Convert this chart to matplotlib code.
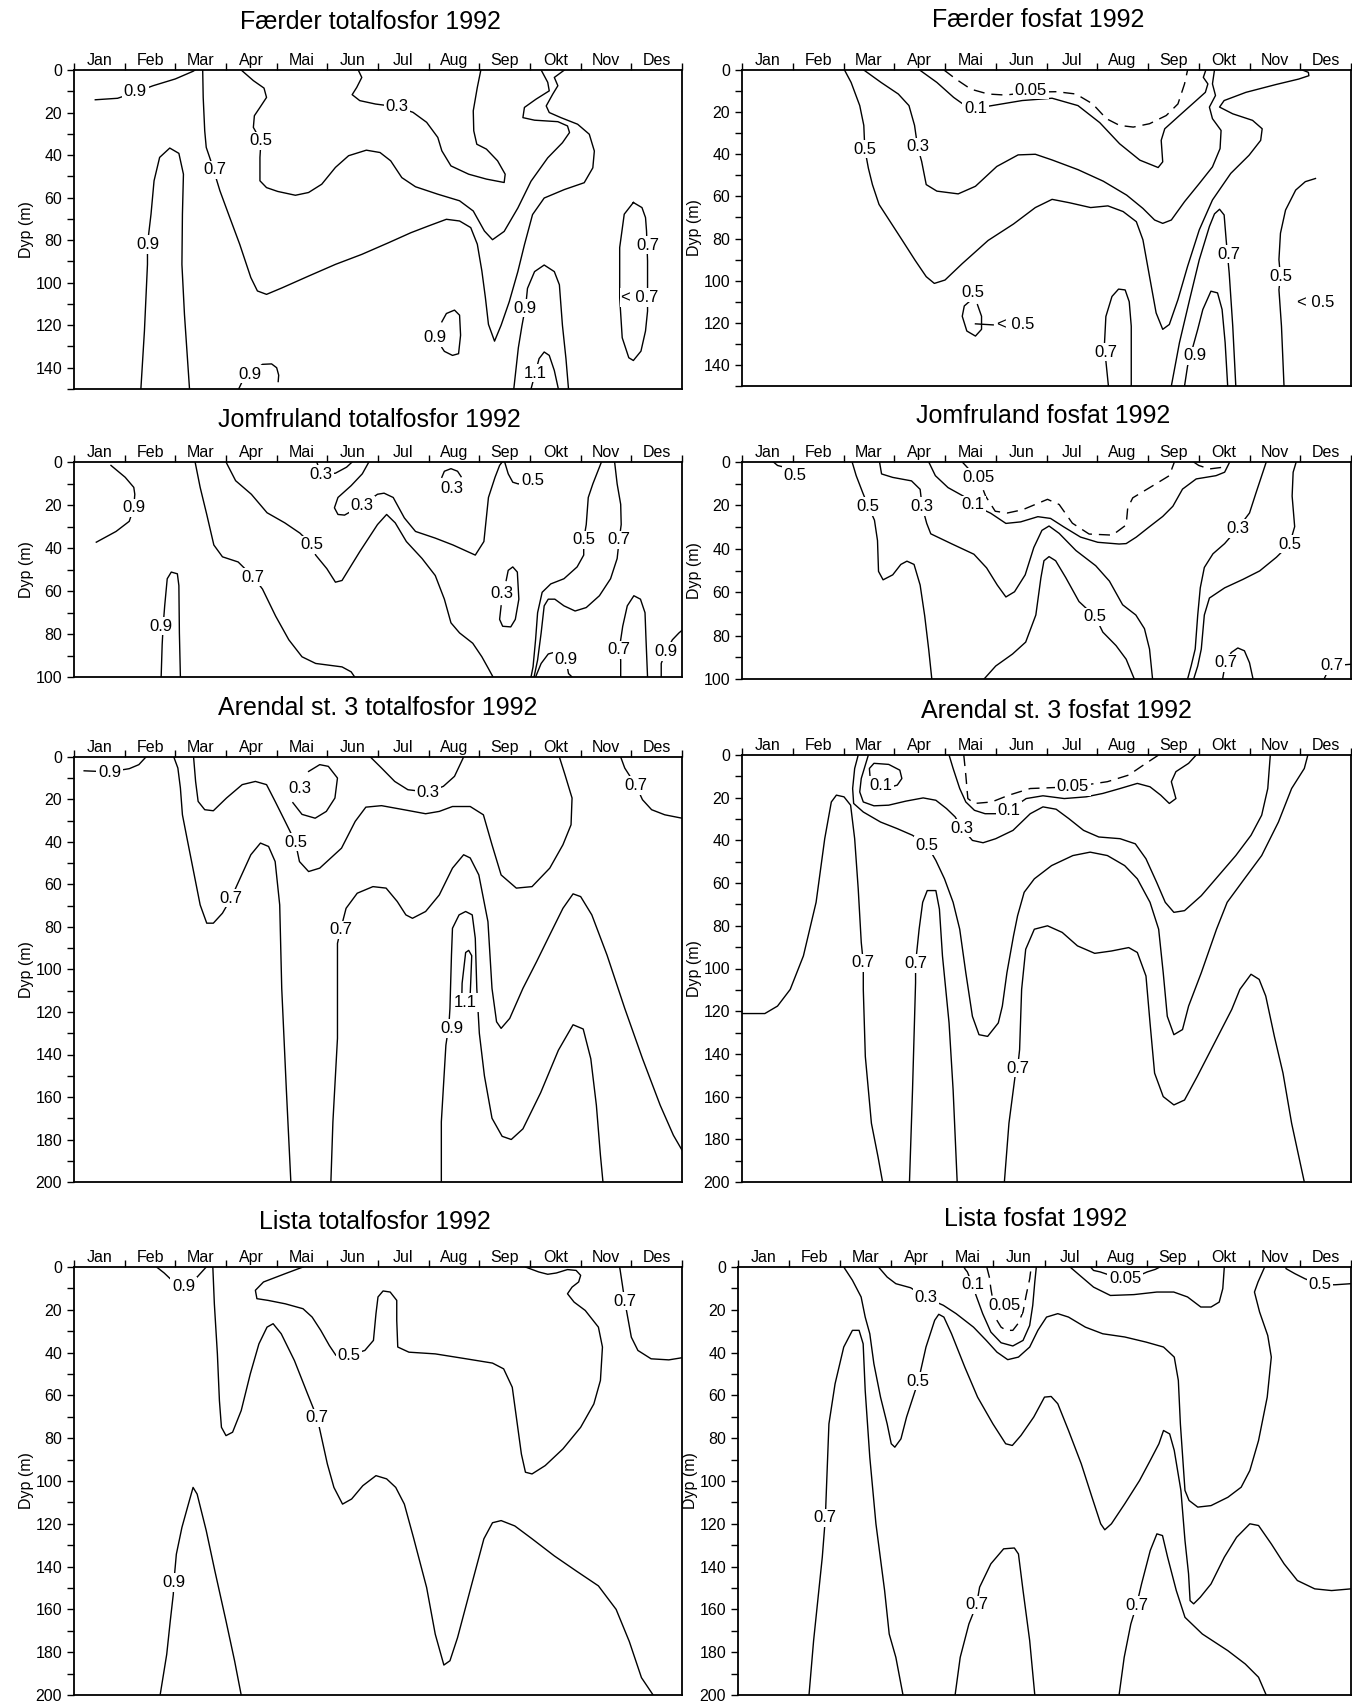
import matplotlib.pyplot as plt

plt.rcParams['font.family'] = ['Liberation Sans', 'DejaVu Sans']

months = ['Jan', 'Feb', 'Mar', 'Apr', 'Mai', 'Jun', 'Jul', 'Aug', 'Sep', 'Okt', 'Nov', 'Des']

# isolines as (month, depth m); month 0 = 1 Jan, 12 = 31 Des
# ---- Færder totalfosfor (0-150 m)
faerder_tp_lines = [
    [(0.42, 14), (0.86, 13.3), (1.21, 10.5), (1.56, 7.4), (2.0, 4.2), (2.35, 0.6), (2.39, 0)],
    [(2.54, 0), (2.55, 12.9), (2.58, 28.6), (2.61, 36.4), (2.7, 42.7), (2.88, 56.8), (3.05, 67.8), (3.27, 81.9),
     (3.49, 97.6), (3.62, 103.9), (3.8, 105.5), (4.11, 102.4), (4.63, 96.9), (5.16, 91.4), (5.68, 86.7),
     (6.21, 81.2), (6.65, 76.5), (7.0, 73.3), (7.35, 70.2), (7.61, 71.0), (7.83, 74.1), (7.96, 81.9),
     (8.05, 94.5), (8.12, 107.1), (8.18, 119.6), (8.3, 127.5), (8.43, 120), (8.59, 109), (8.76, 94.8),
     (8.89, 82.2), (9.05, 68), (9.28, 60.2), (9.68, 56.2), (10.07, 53), (10.24, 46), (10.27, 38.1),
     (10.17, 30.2), (9.94, 25.5), (9.61, 22.4), (9.38, 20), (9.32, 16.9), (9.45, 11.3), (9.55, 7.4),
     (9.48, 3.5), (9.68, 0)],
    [(3.3, 0), (3.54, 5.0), (3.75, 8.5), (3.8, 12.9), (3.67, 17.6), (3.56, 21.5), (3.54, 27.0), (3.69, 33.3),
     (3.67, 41.1), (3.67, 52.1), (3.8, 55.3), (4.02, 57.1), (4.37, 58.9), (4.63, 57.6), (4.89, 53.7),
     (5.16, 45.8), (5.42, 40.3), (5.77, 37.7), (6.04, 38.8), (6.25, 42.7), (6.47, 50.6), (6.74, 54.9),
     (7.18, 58.4), (7.61, 61.5), (7.88, 66.3), (8.1, 75.7), (8.26, 79.8), (8.49, 75.9), (8.76, 64.9),
     (9.02, 52.3), (9.35, 41.3), (9.64, 34.2), (9.78, 29.4), (9.74, 26.3), (9.55, 24.3), (9.09, 23.6),
     (8.86, 22.4), (8.89, 17.6), (9.12, 13.7), (9.38, 9.8), (9.35, 5.8), (9.22, 0)],
    [(5.61, 0), (5.68, 3.5), (5.58, 8.2), (5.49, 11.6), (5.64, 14.4), (5.95, 16.0), (6.37, 17.3), (6.69, 19.9),
     (6.96, 24.6), (7.18, 31.7), (7.26, 38.0), (7.44, 45.1), (7.79, 49.0), (8.14, 51.3), (8.49, 52.9),
     (8.51, 49.0), (8.36, 42.7), (8.14, 37.2), (7.95, 34.9), (7.89, 28.6), (7.88, 19.2), (7.96, 8.2), (8.03, 0)],
    [(1.32, 150), (1.39, 122.7), (1.45, 91.4), (1.45, 81.9), (1.52, 67.8), (1.58, 52.1), (1.69, 41.1),
     (1.89, 36.7), (2.07, 39.2), (2.16, 49.0), (2.14, 67.8), (2.13, 91.4), (2.18, 114.9), (2.28, 150)],
    [(8.68, 150), (8.77, 130.6), (8.84, 120.4), (8.92, 110), (8.95, 102.7), (9.09, 94.8), (9.28, 91.7),
     (9.48, 94.8), (9.58, 101), (9.64, 120), (9.71, 135.8), (9.76, 150)],
    [(9.02, 150), (9.1, 142.8), (9.18, 135.7), (9.28, 132.6), (9.38, 134.2), (9.48, 141.3), (9.56, 150)],
    [(7.26, 118.4), (7.35, 114.5), (7.51, 112.9), (7.61, 115.3), (7.63, 124.7), (7.59, 133.4), (7.47, 134.2),
     (7.31, 132.3), (7.26, 130.5)],
    [(3.25, 150), (3.32, 146.5), (3.47, 143), (3.72, 138.4), (3.9, 138.2), (4.0, 140), (4.04, 143.5), (4.03, 146.5)],
    [(11.04, 62.3), (11.21, 64.7), (11.28, 69.4), (11.3, 75.7), (11.32, 89.8), (11.32, 97.6), (11.32, 113.4),
     (11.28, 122.7), (11.19, 132.2), (11.04, 136.6), (10.95, 135.3), (10.82, 125.9), (10.77, 107.1),
     (10.77, 83.5), (10.86, 67.8), (11.04, 62.3)],
]
faerder_tp_dashed = []
faerder_tp_labels = [
    (1.21, 10, '0.9'), (2.79, 47, '0.7'), (3.69, 33.3, '0.5'), (6.37, 17.3, '0.3'), (1.45, 82, '0.9'),
    (8.9, 112, '0.9'), (9.1, 142.5, '1.1'), (7.13, 126, '0.9'), (3.47, 143, '0.9'), (11.32, 82.3, '0.7'),
    (11.17, 107, '< 0.7'),
]

# ---- Færder fosfat (0-150 m)
faerder_po4_lines = [
    [(2.02, 0), (2.15, 5.9), (2.32, 16.9), (2.4, 26.3), (2.42, 37.5), (2.49, 46.6), (2.57, 54.4), (2.7, 63.8),
     (2.91, 71.6), (3.16, 80.9), (3.41, 90.3), (3.63, 98.1), (3.79, 101.3), (4.0, 99.7), (4.34, 91.9),
     (4.85, 80.9), (5.35, 73.1), (5.78, 65.3), (6.11, 61.4), (6.45, 63), (6.87, 65.3), (7.21, 64.5),
     (7.51, 67.2), (7.77, 72), (7.9, 80.6), (8.03, 98), (8.16, 115.3), (8.29, 123.1), (8.42, 120.8),
     (8.59, 109), (8.78, 93.2), (9.01, 75.9), (9.27, 61.7), (9.63, 49.1), (9.99, 40.5), (10.22, 33.4),
     (10.25, 27.9), (10.06, 23.9), (9.67, 20.8), (9.41, 17.6), (9.5, 14.5), (9.93, 10.6), (10.52, 6.9),
     (10.97, 4.3), (11.17, 2.7), (11.16, 1.1), (11.04, 0)],
    [(2.4, 0), (2.74, 5.9), (3.08, 11.4), (3.29, 16.9), (3.4, 26.3), (3.46, 36.4), (3.54, 43.4), (3.63, 54.4),
     (3.84, 57.5), (4.26, 58.8), (4.6, 55.2), (5.02, 45.8), (5.44, 40.3), (5.78, 40), (6.11, 42.7),
     (6.62, 47.3), (7.12, 52.8), (7.58, 59.4), (7.9, 65.7), (8.13, 71.2), (8.29, 72.8), (8.46, 71.2),
     (8.72, 62.5), (9.01, 53.9), (9.27, 46), (9.42, 37.3), (9.44, 28.7), (9.27, 23.1), (9.21, 17.6),
     (9.33, 12.1), (9.27, 6.6), (9.31, 0)],
    [(3.5, 0), (3.84, 5.9), (4.17, 13), (4.38, 16.6), (4.6, 18.1), (4.85, 17.2), (5.52, 14.5), (6.11, 13.4),
     (6.62, 16.9), (7.05, 25), (7.44, 35), (7.84, 42.8), (8.2, 46.3), (8.29, 43.6), (8.26, 33.4), (8.33, 27.9),
     (8.62, 21.6), (8.95, 14.5), (9.13, 10.6), (9.18, 6.6), (9.09, 3.5), (9.14, 0)],
    [(7.22, 150), (7.18, 140.5), (7.14, 131), (7.17, 117), (7.29, 107.5), (7.42, 104), (7.55, 104.4),
     (7.63, 110), (7.67, 121.6), (7.67, 150)],
    [(8.46, 150), (8.62, 129.4), (8.82, 109), (9.01, 90.1), (9.21, 74.3), (9.31, 68.3), (9.41, 66.1),
     (9.5, 68.8), (9.54, 80.6), (9.6, 96.4), (9.67, 121.6), (9.73, 150)],
    [(8.72, 150), (8.78, 140.5), (8.98, 123.1), (9.08, 113.7), (9.24, 105), (9.37, 105.8), (9.46, 113.7),
     (9.52, 129.4), (9.57, 150)],
    [(10.68, 150), (10.63, 121.6), (10.58, 104.3), (10.61, 98), (10.58, 90), (10.61, 77.5), (10.71, 66.5),
     (10.91, 57), (11.1, 53), (11.3, 51.5)],
    [(4.5, 109.5), (4.38, 112), (4.34, 116.9), (4.43, 123.9), (4.6, 126.3), (4.72, 123.1), (4.72, 116.9),
     (4.64, 111.4)],
    [(4.6, 120.5), (4.95, 121)],
]
faerder_po4_dashed = [
    [(3.98, 0), (4.22, 4.4), (4.51, 9.1), (4.85, 11.4), (5.19, 11.9), (5.69, 10.5), (6.2, 10.3), (6.58, 11.4),
     (6.91, 16.1), (7.18, 23.1), (7.44, 26.3), (7.71, 27.1), (8.03, 25.5), (8.36, 21.6), (8.59, 16.1),
     (8.72, 6.6), (8.78, 0)],
]
faerder_po4_labels = [
    (2.42, 37.5, '0.5'), (3.46, 36.4, '0.3'), (4.6, 18.1, '0.1'), (5.69, 9.6, '0.05'), (4.54, 105.6, '0.5'),
    (5.4, 120.8, '< 0.5'), (7.17, 134, '0.7'), (9.6, 87.5, '0.7'), (8.92, 135.7, '0.9'), (10.61, 98, '0.5'),
    (11.3, 110.5, '< 0.5'),
]

# ---- Jomfruland totalfosfor (0-100 m)
jomfru_tp_lines = [
    [(0.73, 1.6), (1.01, 7.1), (1.18, 11.8), (1.2, 15), (1.18, 21.3), (1.09, 27.6), (0.83, 32.3), (0.44, 37.3)],
    [(2.39, 0), (2.49, 11.8), (2.62, 24.4), (2.76, 38.6), (2.93, 44.1), (3.24, 46.5), (3.54, 53.5), (3.72, 59.1),
     (3.98, 71.7), (4.24, 82.7), (4.5, 90.6), (4.77, 93.7), (5.29, 95.3), (5.47, 97.6), (5.54, 100)],
    [(3.0, 0), (3.19, 8.7), (3.5, 15), (3.81, 23.6), (4.16, 28.3), (4.46, 33.1), (4.7, 38.6), (4.77, 43.3),
     (4.99, 49.6), (5.16, 55.9), (5.29, 55.1), (5.64, 41.7), (5.99, 29.1), (6.17, 24.4), (6.34, 28.3),
     (6.56, 37), (6.87, 44.9), (7.13, 52.8), (7.31, 63.8), (7.44, 74.8), (7.61, 79.5), (7.87, 84.3),
     (8.05, 90.6), (8.18, 96.1), (8.27, 100)],
    [(5.82, 0), (5.69, 5.5), (5.47, 11), (5.21, 16.5), (5.14, 21.3), (5.21, 24.4), (5.34, 24.7), (5.69, 20),
     (5.99, 15), (6.12, 14.5), (6.3, 16.5), (6.52, 26), (6.74, 32.3), (7.13, 35.4), (7.48, 38.6), (7.92, 43.3),
     (8.09, 37), (8.18, 16.5), (8.31, 7.1), (8.4, 1.6), (8.45, 0)],
    [(8.5, 0), (8.57, 5.5), (8.66, 9.4), (8.77, 10.2), (9.0, 8.5)],
    [(4.79, 0), (4.84, 3.1), (4.87, 5.8), (5.16, 5.2), (5.38, 2.4), (5.49, 0)],
    [(7.26, 7.1), (7.31, 4.3), (7.44, 3.1), (7.57, 4.3), (7.64, 6.8)],
    [(8.53, 55.1), (8.57, 50.4), (8.66, 48.8), (8.75, 51.2), (8.78, 63.8), (8.71, 73.2), (8.62, 76.7),
     (8.46, 76.4), (8.4, 73.2), (8.43, 66.9)],
    [(10.41, 0), (10.24, 10.2), (10.15, 16.5), (10.11, 29.1), (10.06, 36.2), (10.06, 43.3), (9.93, 48.8),
     (9.67, 54.3), (9.41, 56.7), (9.24, 60.6), (9.15, 70.1), (9.11, 82.7), (9.06, 95.3), (9.02, 100)],
    [(10.67, 0), (10.72, 10.2), (10.79, 19.7), (10.8, 29.1), (10.76, 36.2), (10.72, 44.9), (10.59, 54.3),
     (10.37, 62.2), (10.11, 67.7), (9.89, 69.3), (9.67, 66.9), (9.49, 63.8), (9.36, 63.8), (9.28, 66.9),
     (9.22, 79.5), (9.15, 92.1), (9.08, 100)],
    [(9.11, 100), (9.22, 93.7), (9.36, 89.3), (9.48, 88.5), (9.71, 91.8), (9.76, 98.4), (9.83, 100)],
    [(10.79, 100), (10.79, 92.1), (10.76, 87.4), (10.83, 76.4), (10.92, 66.9), (11.05, 62.2), (11.18, 63.8),
     (11.27, 70.1), (11.29, 82.7), (11.32, 100)],
    [(11.59, 100), (11.59, 93.7), (11.68, 88.2), (11.81, 82.7), (11.94, 79.5), (12.0, 78.3)],
    [(1.72, 100), (1.74, 85), (1.76, 76), (1.79, 66.9), (1.84, 54.3), (1.92, 51.2), (2.04, 52), (2.07, 57.5),
     (2.08, 79.5), (2.1, 100)],
]
jomfru_tp_dashed = []
jomfru_tp_labels = [
    (1.18, 21.3, '0.9'), (3.54, 53.5, '0.7'), (4.7, 38.6, '0.5'), (5.69, 20, '0.3'), (9.05, 8.5, '0.5'),
    (4.87, 5.8, '0.3'), (7.45, 12.1, '0.3'), (8.44, 61, '0.3'), (10.06, 36.2, '0.5'), (10.76, 36.2, '0.7'),
    (9.71, 91.8, '0.9'), (10.76, 87.4, '0.7'), (11.68, 88.2, '0.9'), (1.72, 76.4, '0.9'),
]

# ---- Jomfruland fosfat (0-100 m)
jomfru_po4_lines = [
    [(0.62, 0), (0.7, 1.6), (0.85, 2.5), (1.05, 6)],
    [(2.17, 0), (2.25, 6.3), (2.38, 14.2), (2.49, 20.5), (2.61, 26.8), (2.67, 36.2), (2.69, 50.4), (2.78, 54.3),
     (2.97, 52), (3.13, 47.2), (3.25, 45.7), (3.39, 47.2), (3.51, 56.7), (3.6, 70.9), (3.68, 86.6), (3.74, 100)],
    [(2.71, 0), (2.75, 5.5), (2.97, 7.1), (3.34, 8.7), (3.51, 12.6), (3.55, 20.5), (3.64, 28.3), (3.72, 33.1),
     (4.14, 37.8), (4.57, 42.5), (4.82, 48.8), (5.03, 56.7), (5.2, 62.2), (5.37, 59.8), (5.58, 52),
     (5.75, 39.4), (5.91, 31.5), (6.05, 29.5), (6.25, 32.9), (6.58, 40.8), (6.97, 47.8), (7.24, 54.9),
     (7.5, 65.8), (7.76, 70.5), (7.93, 76.8), (8.03, 86.2), (8.09, 100)],
    [(3.68, 0), (3.81, 6.3), (4.06, 11.8), (4.36, 15.7), (4.55, 19.7), (4.9, 23.6), (5.2, 28.3), (5.49, 27.6),
     (5.83, 25.2), (6.08, 26), (6.34, 29.9), (6.67, 34.6), (7.01, 37), (7.43, 37.8), (7.57, 37.6),
     (7.77, 34.6), (8.03, 29.8), (8.29, 25.1), (8.49, 20.4), (8.68, 12.5), (8.95, 7.8), (9.34, 6.3),
     (9.51, 4.7), (9.61, 0)],
    [(4.77, 100), (5.0, 94), (5.33, 88.5), (5.59, 83), (5.79, 70.5), (5.89, 53.3), (5.95, 45.5), (6.05, 43.6),
     (6.18, 45.5), (6.38, 53.3), (6.64, 64.3), (6.96, 71.3), (7.11, 78.4), (7.37, 84.6), (7.57, 90.9),
     (7.73, 100)],
    [(10.33, 0), (10.13, 14.1), (10.0, 23.5), (9.77, 30.6), (9.51, 37.6), (9.28, 42.3), (9.11, 48.6),
     (9.03, 58), (8.98, 70.5), (8.93, 86.2), (8.85, 94), (8.78, 100)],
    [(10.92, 0), (10.86, 4.7), (10.84, 15.7), (10.89, 29.8), (10.79, 37.9), (10.53, 43.9), (10.2, 50.2),
     (9.87, 54.1), (9.51, 58), (9.21, 62.7), (9.11, 70.5), (9.05, 86.2), (8.98, 94), (8.9, 100)],
    [(9.47, 100), (9.5, 96), (9.54, 92.5), (9.64, 87.8), (9.77, 85.7), (9.9, 87), (10.0, 92.5), (10.07, 100)],
    [(11.47, 100), (11.52, 97.5), (11.62, 94), (11.85, 93.5), (12.0, 93.2)],
]
jomfru_po4_dashed = [
    [(4.34, 0), (4.5, 4), (4.66, 7.1), (4.8, 15.7), (4.99, 22.7), (5.23, 23.5), (5.53, 22), (6.02, 17.2),
     (6.25, 19.6), (6.51, 28.2), (6.84, 33.2), (7.3, 33.7), (7.57, 29), (7.6, 21.2), (7.7, 16.5), (8.09, 11),
     (8.42, 6.3), (8.52, 0)],
    [(8.9, 0), (9.0, 1.6), (9.21, 3.2), (9.45, 2.5), (9.5, 0)],
]
jomfru_po4_labels = [
    (1.05, 6, '0.5'), (2.49, 20.5, '0.5'), (3.55, 20.5, '0.3'), (4.55, 19.7, '0.1'), (4.66, 7.1, '0.05'),
    (6.96, 71.3, '0.5'), (9.77, 30.6, '0.3'), (10.79, 37.9, '0.5'), (9.54, 92.5, '0.7'), (11.62, 94, '0.7'),
]

# ---- Arendal st. 3 totalfosfor (0-200 m)
arendal_tp_lines = [
    [(0.2, 6.5), (0.7, 7), (1.09, 5.5), (1.28, 3.6), (1.42, 0)],
    [(2.36, 0), (2.4, 11.5), (2.45, 20.9), (2.58, 24.8), (2.75, 25.3), (3.01, 19.3), (3.32, 13), (3.58, 11.5),
     (3.8, 13), (3.97, 20.9), (4.15, 29.5), (4.37, 40.1), (4.45, 49.2), (4.63, 53.9), (4.85, 52.3),
     (5.28, 42.9), (5.55, 30.3), (5.76, 23.6), (6.07, 22.9), (6.51, 24.8), (6.94, 26.7), (7.21, 25.6),
     (7.47, 23.3), (7.82, 23.3), (8.08, 27.2), (8.25, 41.3), (8.43, 55.5), (8.73, 61.7), (9.04, 61),
     (9.39, 52.3), (9.65, 41.3), (9.81, 31.9), (9.83, 19.3), (9.69, 8.3), (9.58, 0)],
    [(1.97, 0), (2.05, 5.2), (2.1, 14.6), (2.14, 27.2), (2.23, 38.2), (2.36, 53.9), (2.49, 69.6), (2.62, 78.2),
     (2.75, 78.2), (2.93, 73.5), (3.1, 66.5), (3.28, 57), (3.49, 46), (3.68, 40.5), (3.84, 42.1), (3.97, 49.2),
     (4.06, 69.6), (4.1, 108.9), (4.19, 156), (4.28, 200)],
    [(4.63, 6.8), (4.85, 3.6), (5.02, 4.4), (5.2, 9.9), (5.15, 19.3), (4.98, 25.6), (4.76, 28.8), (4.5, 27),
     (4.32, 21.5)],
    [(5.85, 0), (6.07, 5.2), (6.33, 11.5), (6.59, 15.4), (6.99, 16.5), (7.29, 13.8), (7.51, 9.1), (7.69, 0)],
    [(5.07, 200), (5.11, 171.7), (5.2, 132.4), (5.2, 87.7), (5.26, 81.4), (5.37, 71.2), (5.59, 64.1), (5.9, 61),
     (6.16, 61.7), (6.38, 68), (6.55, 74.3), (6.68, 75.9), (6.94, 72.7), (7.21, 64.9), (7.47, 52.3),
     (7.69, 46), (7.82, 47.5), (7.99, 55.5), (8.17, 77.5), (8.25, 108.9), (8.34, 124.6), (8.43, 127.7),
     (8.6, 123), (8.86, 108.9), (9.13, 96.3), (9.39, 83.7), (9.65, 71.2), (9.85, 64.4), (10.0, 65.7),
     (10.22, 74.3), (10.52, 93.2), (10.87, 118.3), (11.22, 141.9), (11.57, 163.9), (11.83, 178), (12.0, 185)],
    [(7.25, 200), (7.25, 171.7), (7.34, 135.6), (7.4, 126), (7.42, 118.3), (7.45, 93.2), (7.47, 80.6),
     (7.6, 74.3), (7.73, 72.7), (7.86, 74.3), (7.92, 85.3), (7.95, 108.9), (8.0, 130), (8.1, 150),
     (8.25, 170), (8.45, 178.5), (8.63, 180), (8.86, 175), (9.21, 158), (9.56, 138), (9.85, 126), (10.05, 128),
     (10.2, 142), (10.31, 163.9), (10.39, 187.4), (10.44, 200)],
    [(7.65, 118), (7.66, 106.5), (7.73, 92), (7.79, 91), (7.85, 93.5), (7.83, 106), (7.81, 117)],
    [(10.79, 0), (10.87, 5.2), (11.09, 13.4), (11.22, 20.1), (11.4, 24.8), (11.66, 27.2), (12.0, 28.8)],
]
arendal_tp_dashed = []
arendal_tp_labels = [
    (0.7, 7.1, '0.9'), (4.37, 40.1, '0.5'), (3.1, 66.5, '0.7'), (4.45, 14.6, '0.3'), (6.99, 16.5, '0.3'),
    (5.26, 81.4, '0.7'), (7.45, 127.7, '0.9'), (7.73, 115.5, '1.1'), (11.09, 13.4, '0.7'),
]

# ---- Arendal st. 3 fosfat (0-200 m)
arendal_po4_lines = [
    [(2.53, 12), (2.51, 6.3), (2.6, 3.9), (2.89, 4.4), (3.11, 7.1), (3.15, 11), (3.06, 14.1), (2.94, 14.9)],
    [(2.49, 0), (2.43, 4.7), (2.35, 11), (2.32, 17.3), (2.39, 22), (2.6, 23.8), (2.89, 23.5), (3.23, 21.6),
     (3.57, 20.1), (3.82, 21.2), (4.03, 25.1), (4.2, 29), (4.33, 34.2), (4.54, 40), (4.75, 41.1), (5.0, 39.2),
     (5.34, 35.3), (5.68, 27.5), (5.93, 24.3), (6.19, 25.4), (6.44, 29.8), (6.73, 35.3), (7.03, 38.4),
     (7.45, 39.2), (7.75, 41.6), (7.96, 48.6), (8.17, 59.6), (8.34, 69), (8.51, 73.7), (8.72, 72.9),
     (9.05, 65.9), (9.39, 56.5), (9.73, 47.1), (10.03, 37.6), (10.24, 28.2), (10.36, 15.7), (10.41, 0)],
    [(2.29, 0), (2.22, 6.3), (2.18, 15.7), (2.2, 22.7), (2.39, 26.7), (2.73, 31.4), (3.06, 34.5), (3.36, 37.6),
     (3.65, 42.4), (3.82, 49.4), (3.99, 58), (4.16, 69), (4.29, 81.6), (4.41, 102), (4.54, 122.4), (4.67, 131),
     (4.84, 131.8), (5.05, 125.5), (5.13, 117.6), (5.22, 102), (5.35, 84.7), (5.43, 75.3), (5.56, 64.3),
     (5.76, 58), (6.1, 51.8), (6.52, 47.1), (6.86, 45.5), (7.2, 47.1), (7.54, 51.8), (7.79, 58), (8.04, 69),
     (8.21, 81.6), (8.3, 102), (8.38, 122.4), (8.51, 131), (8.68, 128.6), (8.8, 117.6), (9.05, 102),
     (9.35, 81.6), (9.56, 69), (9.9, 58), (10.24, 47.1), (10.57, 31.4), (10.83, 15.7), (11.08, 6.3),
     (11.15, 0)],
    [(4.08, 0), (4.16, 6.3), (4.29, 15.7), (4.41, 22), (4.58, 25.9), (4.79, 27.5), (5.0, 27.5), (5.26, 25.9),
     (5.6, 20.4), (5.93, 19.1), (6.35, 20.4), (6.78, 19.6), (7.11, 18), (7.45, 15.7), (7.79, 13.3),
     (8.04, 14.9), (8.25, 18.8), (8.42, 22.7), (8.55, 20.4), (8.46, 12.5), (8.55, 7.8), (8.8, 3.9), (8.95, 0)],
    [(0, 121.1), (0.45, 121.1), (0.7, 117.6), (0.95, 109.8), (1.21, 94.1), (1.46, 69), (1.63, 39.2), (1.76, 22),
     (1.86, 18.8), (2.01, 19.6), (2.14, 23.5), (2.22, 39.2), (2.29, 62.7), (2.35, 87.8), (2.39, 97.3),
     (2.39, 109.8), (2.43, 141.2), (2.55, 172.5), (2.68, 188.2), (2.77, 200)],
    [(3.3, 200), (3.36, 156.9), (3.42, 106.7), (3.42, 97.6), (3.49, 81.6), (3.56, 69), (3.65, 63.5),
     (3.82, 63.5), (3.89, 72.2), (3.95, 94.1), (4.08, 125.5), (4.16, 156.9), (4.24, 200)],
    [(5.17, 200), (5.26, 172.5), (5.38, 150.6), (5.43, 146.7), (5.47, 138), (5.51, 109.8), (5.59, 91),
     (5.76, 81.6), (6.02, 80), (6.31, 83.1), (6.61, 89.4), (6.95, 92.9), (7.28, 91.8), (7.62, 90.2),
     (7.79, 92.5), (7.96, 103.5), (8.04, 125.5), (8.13, 149), (8.3, 160), (8.51, 163.9), (8.72, 161.6),
     (8.97, 150.6), (9.31, 134.9), (9.65, 119.2), (9.81, 109.8), (10.03, 102.7), (10.19, 105.1),
     (10.32, 112.9), (10.49, 131.8), (10.66, 149), (10.83, 172.5), (11.08, 200)],
]
arendal_po4_dashed = [
    [(4.37, 0), (4.41, 9.4), (4.45, 20.4), (4.58, 22.7), (4.92, 22), (5.26, 18.8), (5.68, 15.7), (6.52, 14.9),
     (7.2, 12.5), (7.62, 9.4), (7.96, 3.9), (8.21, 0)],
]
arendal_po4_labels = [
    (2.73, 14.1, '0.1'), (4.33, 34.2, '0.3'), (3.65, 42.4, '0.5'), (5.26, 25.9, '0.1'), (6.52, 14.9, '0.05'),
    (2.39, 97.3, '0.7'), (3.42, 97.6, '0.7'), (5.43, 146.7, '0.7'),
]

# ---- Lista totalfosfor (0-200 m)
lista_tp_lines = [
    [(1.63, 0), (1.78, 2.8), (1.9, 5.5), (2.16, 9), (2.43, 4.7), (2.61, 0)],
    [(2.74, 0), (2.77, 17.2), (2.83, 40.6), (2.87, 62.4), (2.91, 74.9), (3.0, 78.8), (3.13, 77.2), (3.3, 67.1),
     (3.48, 49.9), (3.65, 35.9), (3.81, 28.1), (3.93, 26.5), (4.09, 31.2), (4.35, 43.7), (4.61, 59.3),
     (4.8, 70.5), (4.87, 78), (5.0, 92), (5.13, 103), (5.3, 110.8), (5.48, 108.4), (5.7, 102.2), (5.96, 97.5),
     (6.17, 99), (6.35, 103), (6.52, 110.8), (6.7, 126.4), (6.96, 149.8), (7.13, 171.6), (7.3, 186),
     (7.42, 184), (7.57, 173.2), (7.83, 150), (8.09, 127), (8.26, 119.5), (8.43, 118.5), (8.7, 121),
     (9.04, 127), (9.48, 135), (9.91, 142), (10.35, 149), (10.7, 160), (10.96, 175), (11.2, 191.9),
     (11.43, 200)],
    [(4.52, 0), (4.17, 3.1), (3.74, 7), (3.58, 10.9), (3.61, 14.8), (3.83, 15.6), (4.17, 17.2), (4.52, 19.5),
     (4.7, 23.4), (4.87, 29.6), (5.04, 36.7), (5.17, 41.3), (5.43, 41.3), (5.74, 39), (5.91, 34.3),
     (5.96, 21.8), (6.0, 14), (6.1, 11.2), (6.24, 11.7), (6.37, 15.6), (6.37, 25), (6.39, 37.4), (6.61, 39.8),
     (7.13, 40.6), (7.74, 42.9), (8.26, 44.9), (8.48, 47.6), (8.65, 56.2), (8.74, 71.8), (8.83, 87.4),
     (8.91, 95.9), (9.04, 96.7), (9.3, 92.8), (9.65, 85), (10.0, 74.9), (10.26, 64), (10.39, 53),
     (10.43, 37.4), (10.35, 28.1), (10.09, 20.3), (9.87, 16.4), (9.74, 12.5), (9.83, 9.4), (9.96, 7),
     (10.0, 3.9), (9.91, 1.6), (9.74, 1.2), (9.52, 2.8), (9.35, 3.4), (9.17, 2.3), (8.91, 0)],
    [(10.77, 0), (10.83, 9.4), (10.87, 15.9), (10.94, 25), (11.0, 32.8), (11.13, 39), (11.39, 42.9),
     (11.74, 43.4), (12.0, 42.4)],
    [(1.7, 200), (1.83, 181), (1.9, 165.4), (1.96, 152.9), (1.97, 147.4), (2.02, 134.2), (2.13, 121.7),
     (2.24, 112.3), (2.35, 103), (2.43, 106.1), (2.61, 123.2), (2.78, 142), (3.0, 165.4), (3.17, 184.1),
     (3.3, 200)],
]
lista_tp_dashed = []
lista_tp_labels = [
    (2.16, 9, '0.9'), (4.8, 70.5, '0.7'), (5.43, 41.3, '0.5'), (10.87, 15.9, '0.7'), (1.97, 147.4, '0.9'),
]

# ---- Lista fosfat (0-200 m)
lista_po4_lines = [
    [(1.39, 200), (1.48, 174.6), (1.65, 135.6), (1.71, 117.2), (1.73, 104.4), (1.78, 73.3), (1.9, 54.6),
     (2.07, 37.4), (2.24, 29.6), (2.37, 29.6), (2.45, 35.9), (2.49, 57.7), (2.58, 88.9), (2.7, 120),
     (2.87, 151.2), (2.96, 171.5), (3.09, 182.4), (3.23, 200)],
    [(2.07, 0), (2.24, 6.2), (2.41, 14), (2.49, 23.4), (2.58, 31.2), (2.66, 45.2), (2.79, 60.8), (2.92, 73.3),
     (3.0, 82.6), (3.07, 84.2), (3.19, 80.3), (3.3, 70.1), (3.53, 53.3), (3.68, 37.4), (3.85, 24.9),
     (3.93, 22.1), (4.03, 23.4), (4.18, 31.2), (4.44, 46.8), (4.69, 60.8), (4.99, 73.3), (5.24, 82.6),
     (5.37, 83.4), (5.54, 78.7), (5.79, 70.1), (6.0, 60.8), (6.13, 60.5), (6.26, 63.9), (6.47, 76.4),
     (6.72, 92), (6.93, 107.6), (7.1, 120), (7.18, 122.8), (7.31, 120), (7.57, 110.7), (7.86, 99.8),
     (8.07, 90.4), (8.24, 82.6), (8.33, 76.4), (8.45, 78), (8.54, 85.7), (8.67, 104.4), (8.75, 127.8),
     (8.82, 143.4), (8.85, 155.9), (8.92, 157.4), (9.05, 154.3), (9.26, 148.1), (9.52, 135.6), (9.76, 126.3),
     (10.02, 120), (10.19, 120.8), (10.44, 129.4), (10.69, 138.7), (10.95, 146.5), (11.29, 150.4),
     (11.62, 151.2), (12.0, 150.4)],
    [(4.25, 200), (4.35, 182.4), (4.52, 166.8), (4.67, 157.8), (4.73, 149.6), (4.95, 138.7), (5.2, 131.7),
     (5.41, 131.3), (5.49, 134.1), (5.58, 151.2), (5.71, 174.6), (5.81, 200)],
    [(7.46, 200), (7.56, 182.4), (7.69, 166.8), (7.8, 158.2), (7.9, 148.1), (8.07, 132.5), (8.2, 124.7),
     (8.31, 125.5), (8.41, 135.6), (8.58, 151.2), (8.75, 163.7), (9.09, 171.5), (9.59, 179.3), (9.93, 185.5),
     (10.19, 191.7), (10.34, 200)],
    [(2.75, 0), (2.92, 4.7), (3.09, 7.8), (3.38, 9.7), (3.68, 14.3), (4.02, 17.9), (4.27, 21.8), (4.61, 28.1),
     (4.86, 34.3), (5.07, 39.8), (5.28, 43.3), (5.49, 42.1), (5.71, 37.4), (5.87, 29.6), (6.04, 23.4),
     (6.26, 21.8), (6.47, 23.4), (6.8, 28.1), (7.14, 31.2), (7.57, 32.7), (7.99, 35.1), (8.33, 37.4),
     (8.54, 42.1), (8.62, 53), (8.66, 73.3), (8.75, 104.4), (8.83, 109.1), (9.0, 112.2), (9.26, 111.5),
     (9.59, 107.6), (9.85, 102.9), (10.02, 95.1), (10.19, 81.1), (10.36, 60.8), (10.44, 42.1), (10.37, 32),
     (10.21, 21), (10.11, 11.7), (10.18, 7), (10.31, 0)],
    [(4.42, 0), (4.45, 1.1), (4.49, 2.3), (4.59, 8.3), (4.66, 13.3), (4.79, 21.8), (4.95, 30.4), (5.15, 35.4),
     (5.38, 36.9), (5.58, 34.3), (5.71, 27.3), (5.77, 17.9), (5.81, 7), (5.84, 0)],
    [(6.5, 0), (6.69, 3.9), (6.96, 9.4), (7.29, 13.3), (7.75, 12.9), (8.2, 11.7), (8.53, 11.7), (8.8, 14),
     (9.06, 18.7), (9.26, 18.7), (9.42, 16.4), (9.49, 10.1), (9.52, 0)],
    [(6.9, 0), (6.96, 1.6), (7.09, 2.3), (7.3, 4), (7.58, 5.1), (7.85, 4), (8.01, 2.3), (8.17, 1.1), (8.26, 0)],
    [(10.72, 0), (10.73, 0.8), (10.9, 3.1), (11.1, 5.5), (11.39, 8.3), (11.69, 8.3), (12.0, 7.8)],
]
lista_po4_dashed = [
    [(4.87, 0), (4.92, 4.7), (4.95, 10.1), (5.0, 17), (5.05, 24.2), (5.15, 28.1), (5.25, 29.6), (5.38, 29.6),
     (5.48, 26.5), (5.58, 21), (5.64, 13.3), (5.71, 5.5), (5.74, 0)],
]
lista_po4_labels = [
    (1.71, 117.2, '0.7'), (3.53, 53.3, '0.5'), (4.67, 157.8, '0.7'), (7.8, 158.2, '0.7'), (3.68, 14.3, '0.3'),
    (4.59, 8.3, '0.1'), (5.22, 17.9, '0.05'), (7.58, 5.3, '0.05'), (11.39, 8.3, '0.5'),
]


def draw_panel(ax, depth, lines, dashed, labels):
    for pts in lines:
        xs, ys = zip(*pts)
        ax.plot(xs, ys, color='black', lw=1.0)
    for pts in dashed:
        xs, ys = zip(*pts)
        ax.plot(xs, ys, color='black', lw=1.0, ls=(0, (8, 5)))
    for x, d, txt in labels:
        ax.text(x, d, txt, ha='center', va='center', fontsize=12, zorder=4,
                bbox=dict(boxstyle='square,pad=0.1', fc='white', ec='none'))
    ax.set_xlim(0, 12)
    ax.set_ylim(depth, 0)
    ax.xaxis.tick_top()
    ax.set_xticks(range(13))
    ax.set_xticklabels([])
    ax.set_xticks([m + 0.5 for m in range(12)], minor=True)
    ax.set_xticklabels(months, minor=True, fontsize=11.5)
    ax.tick_params(axis='x', which='major', top=True, bottom=False, direction='out', length=5, width=1)
    ax.tick_params(axis='x', which='minor', top=True, bottom=False, length=0, pad=1.5)
    ax.set_yticks(range(0, depth + 1, 20))
    ax.set_yticks(range(10, depth + 1, 20), minor=True)
    ax.tick_params(axis='y', which='both', direction='out', length=5, width=1, labelsize=11.5)
    ax.set_ylabel('Dyp (m)', fontsize=11.5)
    for s in ax.spines.values():
        s.set_linewidth(1.3)


fig = plt.figure(figsize=(13.52, 17.04), dpi=100)
W, H = 1352.0, 1704.0

panels = [
    ('Færder totalfosfor 1992', 150, faerder_tp_lines, faerder_tp_dashed, faerder_tp_labels,
     (74, 70, 682, 389), (370, 22)),
    ('Færder fosfat 1992', 150, faerder_po4_lines, faerder_po4_dashed, faerder_po4_labels,
     (742, 70, 1351, 386), (1038, 20)),
    ('Jomfruland totalfosfor 1992', 100, jomfru_tp_lines, jomfru_tp_dashed, jomfru_tp_labels,
     (74, 462, 682, 677), (369, 420)),
    ('Jomfruland fosfat 1992', 100, jomfru_po4_lines, jomfru_po4_dashed, jomfru_po4_labels,
     (742, 462, 1351, 679), (1043, 416)),
    ('Arendal st. 3 totalfosfor 1992', 200, arendal_tp_lines, arendal_tp_dashed, arendal_tp_labels,
     (74, 757, 682, 1182), (378, 708)),
    ('Arendal st. 3 fosfat 1992', 200, arendal_po4_lines, arendal_po4_dashed, arendal_po4_labels,
     (742, 755, 1351, 1182), (1056, 711)),
    ('Lista totalfosfor 1992', 200, lista_tp_lines, lista_tp_dashed, lista_tp_labels,
     (74, 1267, 682, 1695), (375, 1222)),
    ('Lista fosfat 1992', 200, lista_po4_lines, lista_po4_dashed, lista_po4_labels,
     (738, 1267, 1351, 1695), (1036, 1219)),
]

for title, depth, lines, dashed, labels, box, tpos in panels:
    x0, y0, x1, y1 = box
    ax = fig.add_axes([x0 / W, 1 - y1 / H, (x1 - x0) / W, (y1 - y0) / H])
    draw_panel(ax, depth, lines, dashed, labels)
    ax.yaxis.set_label_coords(-0.066, 0.5)
    fig.text(tpos[0] / W, 1 - tpos[1] / H, title, ha='center', va='center', fontsize=18)

fig.savefig('out.png', dpi=100)
